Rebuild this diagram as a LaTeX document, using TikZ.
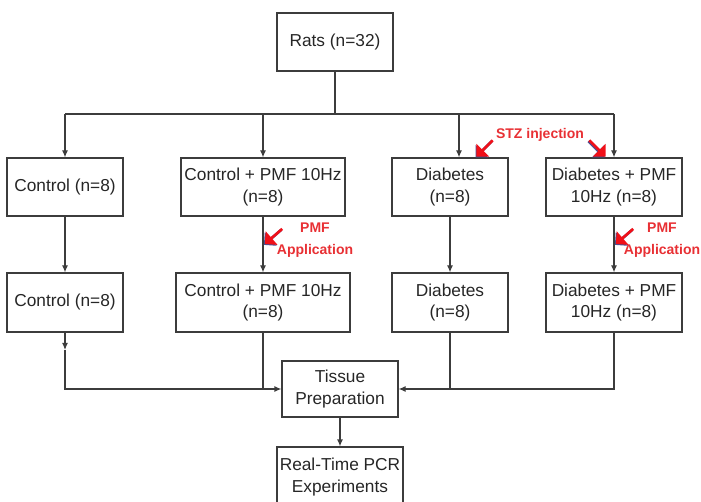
\documentclass[tikz,border=0pt]{standalone}
\usepackage{fontspec}
\setmainfont{Liberation Sans}
\usetikzlibrary{arrows.meta,shapes.arrows,shadows}
\definecolor{boxline}{RGB}{60,60,60}
\definecolor{notered}{RGB}{232,48,52}
\definecolor{arrowred}{RGB}{240,16,24}
\definecolor{arrowblue}{RGB}{70,80,150}
\tikzset{
    box/.style={draw=boxline, line width=1.2pt, minimum height=58pt, align=center, inner sep=2pt,
        text=black!85, font=\fontsize{17.3}{21.7}\selectfont},
    note/.style={text=notered, align=center, font=\bfseries\fontsize{14}{22}\selectfont},
    redarrow/.style={single arrow, fill=arrowred, inner sep=0pt, minimum width=18pt, minimum height=23pt,
        single arrow head extend=3.5pt,
        drop shadow={shadow xshift=-0.9pt, shadow yshift=-0.9pt, fill=arrowblue, opacity=1}}
}
\begin{document}
\begin{tikzpicture}[x=1pt, y=-1pt, color=boxline, line width=1.2pt, >={Latex[length=7pt,width=6pt]}]
    \useasboundingbox (0,0) rectangle (701,502);

    \node [box, minimum width=116pt] (rats) at (335,42) {Rats (n=32)};

    \node [box, minimum width=116pt] (ctl1) at (65,187) {Control (n=8)};
    \node [box, minimum width=164pt] (cpmf1) at (263,187) {Control + PMF 10Hz\\(n=8)};
    \node [box, minimum width=116pt] (dia1) at (450,187) {Diabetes\\(n=8)};
    \node [box, minimum width=136pt] (dpmf1) at (614,187) {Diabetes + PMF\\10Hz (n=8)};

    \node [box, minimum width=116pt, minimum height=59pt] (ctl2) at (65,302.5) {Control (n=8)};
    \node [box, minimum width=174pt, minimum height=59pt] (cpmf2) at (263,302.5) {Control + PMF 10Hz\\(n=8)};
    \node [box, minimum width=116pt, minimum height=59pt] (dia2) at (450,302.5) {Diabetes\\(n=8)};
    \node [box, minimum width=136pt, minimum height=59pt] (dpmf2) at (614,302.5) {Diabetes + PMF\\10Hz (n=8)};

    \node [box, minimum width=116pt, minimum height=56pt] (tissue) at (340,389) {Tissue\\Preparation};
    \node [box, minimum width=126pt, minimum height=60pt] (pcr) at (340,477) {Real-Time PCR\\Experiments};

    \coordinate (split) at (335,114);
    \coordinate (b1) at (65,114);
    \coordinate (b2) at (263,114);
    \coordinate (b3) at (459,114);
    \coordinate (b4) at (614,114);
    \coordinate (c1) at (65,350);

    \draw (rats) -- (split);
    \draw (b1) -- (b4);
    \draw [->] (b1) -- (ctl1);
    \draw [->] (b2) -- (cpmf1);
    \draw [->] (b3) -- (b3 |- dia1.north);
    \draw [->] (b4) -- (dpmf1);

    \draw [->] (ctl1) -- (ctl2);
    \draw [->] (cpmf1) -- (cpmf2);
    \draw [->] (dia1) -- (dia2);
    \draw [->] (dpmf1) -- (dpmf2);

    \draw [->] (ctl2) -- (c1);
    \draw [->] (c1) |- (tissue);
    \draw (cpmf2) -- (cpmf2 |- tissue);
    \draw (dia2) -- (dia2 |- tissue);
    \draw [->] (dpmf2) |- (tissue);
    \draw [->] (tissue) -- (pcr);

    \node [note] (stz) at (540,135) {STZ injection};
    \node [note] (pmf1) at (315,240) {PMF\\Application};
    \node [note] (pmf2) at (662,240) {PMF\\Application};

    \node [redarrow, rotate=225] (ra1) at (485,148) {};
    \node [redarrow, rotate=315] (ra2) at (597,148) {};
    \node [redarrow, rotate=221] (ra3) at (274,236) {};
    \node [redarrow, rotate=221] (ra4) at (625,236) {};
\end{tikzpicture}
\end{document}
